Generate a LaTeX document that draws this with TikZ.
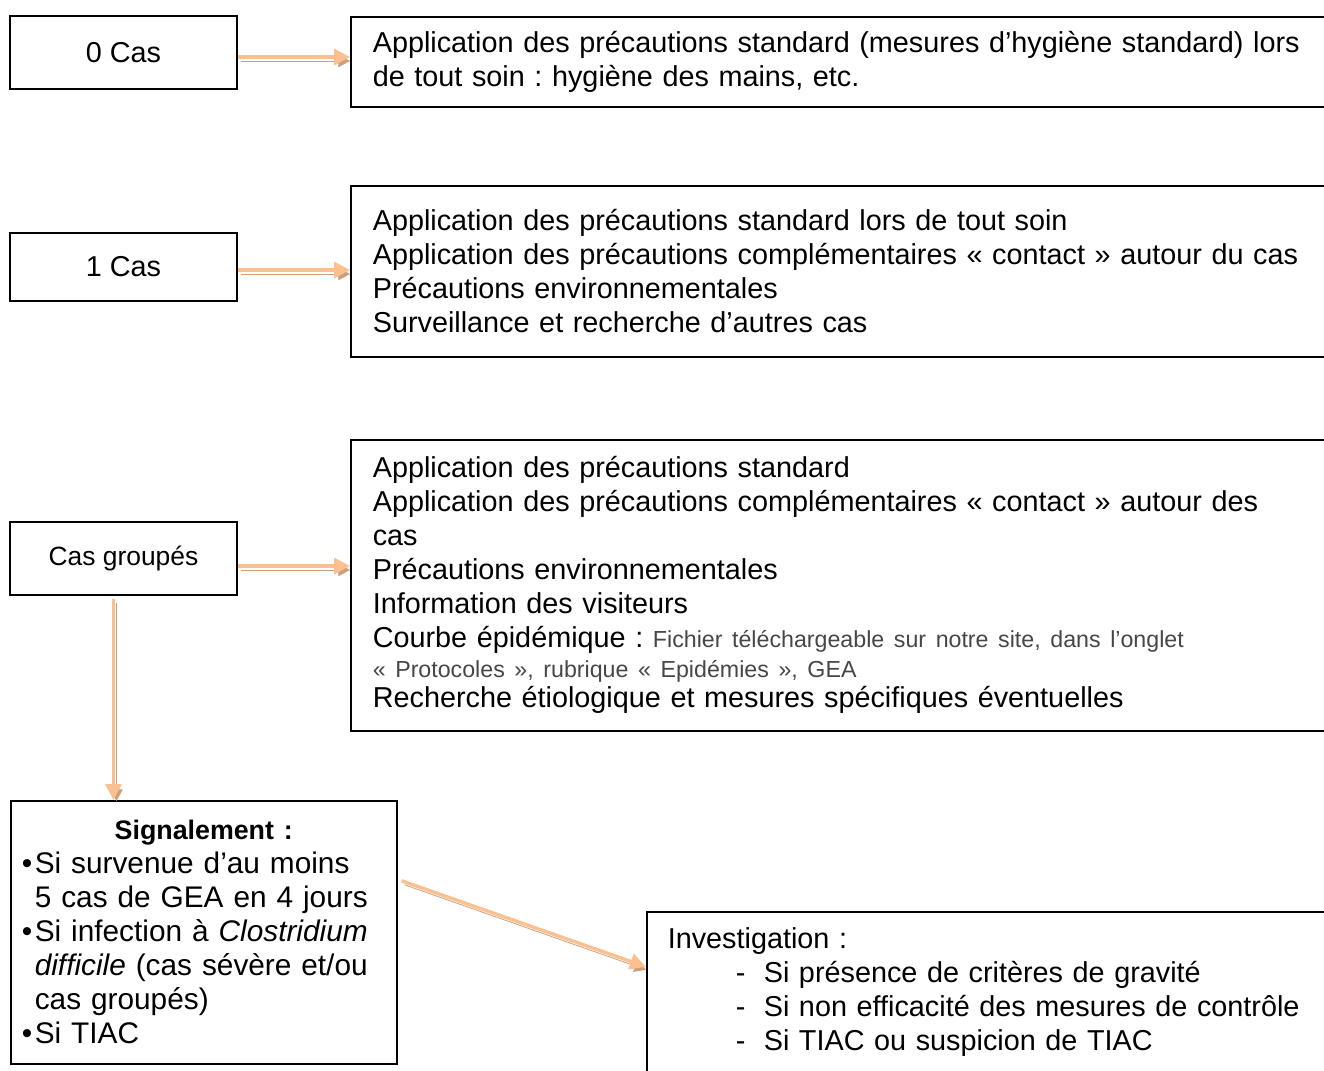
\documentclass[tikz,border=0pt]{standalone}
\usepackage{fontspec}
\setmainfont{Liberation Sans}
\usetikzlibrary{arrows.meta}
\definecolor{peach}{RGB}{250,192,143}
\definecolor{peachshadow}{RGB}{204,160,126}
\definecolor{smallgrey}{RGB}{70,70,70}
\frenchspacing
\begin{document}
\begin{tikzpicture}[x=0.5pt,y=-0.5pt]
\tikzstyle{every node}+=[font=\fontsize{14.4}{17}\selectfont]
\tikzstyle{box}=[draw=black, line width=0.8pt, inner ysep=0pt]
\tikzstyle{textbox}=[box, anchor=north west, inner xsep=11pt, align=left]
\tikzstyle{arr}=[line width=1.7pt, draw=peach, -{Triangle[length=8pt,width=8pt]},
  preaction={draw=peachshadow, transform canvas={shift={(1.5pt,-2pt)}}}]
\useasboundingbox (0,0) rectangle (1324,1071);
\node [box, minimum width=113.5pt, minimum height=36.5pt] (zero) at (123.5,52.5) {0 Cas};
\node [box, minimum width=113.5pt, minimum height=34pt] (one) at (123.5,267) {1 Cas};
\node [box, minimum width=113.5pt, minimum height=36.5pt, font=\fontsize{13.2}{16}\selectfont] (grp) at (123.5,558.5) {Cas groupés};
\node [textbox, text width=473pt, minimum height=45pt] (a0) at (350,16)
  {Application des précautions standard (mesures d’hygiène standard) lors\\
   de tout soin : hygiène des mains, etc.};
\node [textbox, text width=473pt, minimum height=85.5pt] (a1) at (350,185)
  {Application des précautions standard lors de tout soin\\
   Application des précautions complémentaires « contact » autour du cas\\
   Précautions environnementales\\
   Surveillance et recherche d’autres cas};
\node [textbox, text width=473pt, minimum height=145.5pt] (a2) at (350,439)
  {Application des précautions standard\\
   Application des précautions complémentaires « contact » autour des\\
   cas\\
   Précautions environnementales\\
   Information des visiteurs\\
   Courbe épidémique : {\fontsize{11.6}{15}\selectfont\color{smallgrey}Fichier téléchargeable sur notre site, dans l’onglet}\\[-2pt]
   {\fontsize{11.6}{15}\selectfont\color{smallgrey}« Protocoles », rubrique « Epidémies », GEA}\\[-2pt]
   Recherche étiologique et mesures spécifiques éventuelles};
\node [textbox, inner xsep=5.5pt, text width=182pt, minimum height=131.5pt, font=\fontsize{14.9}{17}\selectfont] (sig) at (10,800)
  {\makebox[182pt][c]{\fontsize{13.4}{17}\selectfont\bfseries Signalement :}\\
   \makebox[6.5pt][l]{\textbullet}Si survenue d’au moins\\
   \hspace*{6.5pt}5 cas de GEA en 4 jours\\
   \makebox[6.5pt][l]{\textbullet}Si infection à \textit{Clostridium}\\
   \hspace*{6.5pt}\textit{difficile} (cas sévère et/ou\\
   \hspace*{6.5pt}cas groupés)\\
   \makebox[6.5pt][l]{\textbullet}Si TIAC};
\node [textbox, inner xsep=10.5pt, text width=329pt, minimum height=80pt] (inv) at (646,911)
  {Investigation :\\
   \hspace*{34pt}\makebox[14pt][l]{-}Si présence de critères de gravité\\
   \hspace*{34pt}\makebox[14pt][l]{-}Si non efficacité des mesures de contrôle\\
   \hspace*{34pt}\makebox[14pt][l]{-}Si TIAC ou suspicion de TIAC};
\draw [arr] ([yshift=-2.25pt]zero.east) -- ([yshift=-2.25pt]zero.east -| a0.west);
\draw [arr] ([yshift=-1.5pt]one.east) -- ([yshift=-1.5pt]one.east -| a1.west);
\draw [arr] ([yshift=-3.75pt]grp.east) -- ([yshift=-3.75pt]grp.east -| a2.west);
\draw [arr] ([xshift=-5pt,yshift=-1.5pt]grp.south) -- ([xshift=-5pt]grp.south |- sig.north);
\draw [arr] ([shift={(2pt,25.75pt)}]sig.east) -- ([yshift=12.5pt]inv.west);
\end{tikzpicture}
\end{document}
